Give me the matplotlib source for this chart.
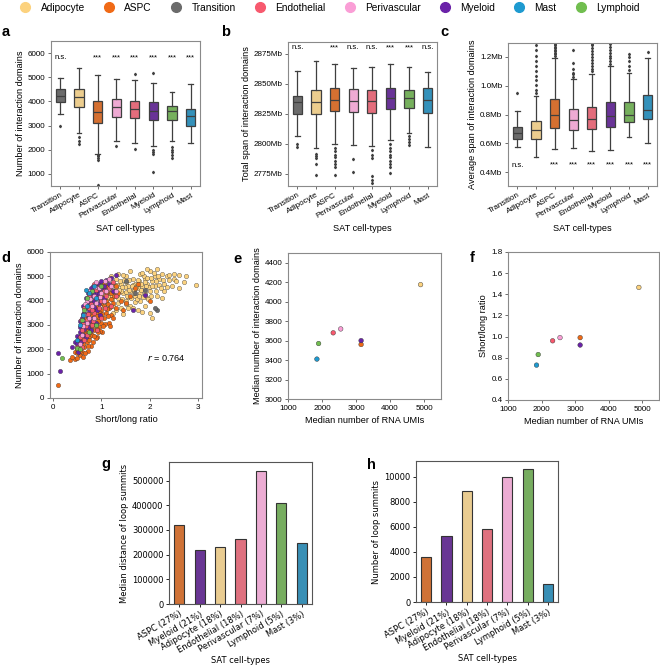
import colorsys
import matplotlib
matplotlib.use('Agg')
import matplotlib.pyplot as plt
import matplotlib.colors as mcolors
from matplotlib.lines import Line2D
from matplotlib.ticker import FuncFormatter

# legend / palette
legend_names = ['Adipocyte', 'ASPC', 'Transition', 'Endothelial', 'Perivascular', 'Myeloid', 'Mast', 'Lymphoid']
legend_colors = ['#FCD27E', '#F06A16', '#6B6B6B', '#F7596E', '#FA9ED6', '#6A22A8', '#1E9AD0', '#71BE4F']
pal = dict(zip(legend_names, legend_colors))

# panels a-c
box_order = ['Transition', 'Adipocyte', 'ASPC', 'Perivascular', 'Endothelial', 'Myeloid', 'Lymphoid', 'Mast']

a_med = [4233, 4192, 3575, 3753, 3685, 3616, 3589, 3411]
a_q1 = [3959, 3753, 3123, 3342, 3301, 3233, 3233, 3000]
a_q3 = [4507, 4507, 4014, 4096, 4027, 3959, 3808, 3699]
a_lo = [3466, 2685, 1836, 2370, 2274, 2137, 2356, 2274]
a_hi = [4973, 5384, 5082, 4945, 4904, 4767, 4397, 4740]
a_fliers = [[2973], [2548, 2342, 2247], [1780, 1726, 1658, 1589, 562], [2164],
            [5151, 2041], [5178, 2000, 1890, 1822, 1082], [2110, 2000, 1890, 1795, 1658], []]
a_sig = ['n.s.', '', '***', '***', '***', '***', '***', '***']

b_med = [2835, 2835.4, 2837, 2836, 2835.5, 2838, 2838, 2837]
b_q1 = [2825, 2825, 2827.8, 2826.7, 2825.5, 2829, 2829.7, 2825.5]
b_q3 = [2840, 2844.6, 2846.7, 2846, 2845, 2846.7, 2845, 2847]
b_lo = [2807, 2797, 2800, 2799.4, 2798, 2803, 2809.4, 2797.5]
b_hi = [2861, 2869.5, 2866.7, 2863, 2864, 2866.7, 2864, 2859.7]
b_fliers = [[2799.6, 2797.5], [2792, 2790, 2788, 2783, 2774],
            [2797, 2794, 2791, 2789, 2786, 2783, 2781, 2774], [2787.5, 2777],
            [2795, 2791, 2788, 2773, 2770, 2767.5],
            [2800, 2797, 2794, 2791, 2789, 2786, 2783, 2781, 2776], [2807, 2804, 2801.7, 2799], []]
b_sig = ['n.s.', '', '***', 'n.s.', 'n.s.', '***', '***', 'n.s.']

c_med = [0.670, 0.693, 0.795, 0.762, 0.767, 0.790, 0.795, 0.831]
c_q1 = [0.628, 0.631, 0.709, 0.693, 0.700, 0.714, 0.746, 0.767]
c_q3 = [0.716, 0.753, 0.907, 0.840, 0.855, 0.887, 0.887, 0.937]
c_lo = [0.573, 0.506, 0.562, 0.568, 0.550, 0.555, 0.642, 0.605]
c_hi = [0.827, 0.930, 1.195, 1.050, 1.080, 1.140, 1.090, 1.195]
c_fliers = [[0.953],
            [0.95, 0.97, 1.005, 1.04, 1.07, 1.106, 1.14, 1.175, 1.21, 1.247, 1.28],
            [1.21, 1.22, 1.23, 1.24, 1.25, 1.26, 1.27, 1.28, 1.29],
            [1.06, 1.08, 1.09, 1.12, 1.16, 1.25],
            [1.10, 1.12, 1.14, 1.16, 1.18, 1.20, 1.22, 1.24, 1.26, 1.28, 1.29],
            [1.15, 1.17, 1.19, 1.21, 1.23, 1.25, 1.27, 1.29],
            [1.11, 1.14, 1.17, 1.20, 1.22],
            [1.235]]
c_sig = ['n.s.', '', '***', '***', '***', '***', '***', '***']

# panel d scatter (short/long ratio, number of interaction domains)
d_pts = {
    'Adipocyte': [(1.0, 4100), (1.05, 4400), (1.1, 3900), (1.15, 4600), (1.2, 4200), (1.25, 3800), (1.3, 4500),
                  (1.3, 4900), (1.35, 4100), (1.4, 3700), (1.4, 4700), (1.45, 4300), (1.5, 4000), (1.5, 5000),
                  (1.55, 4600), (1.6, 3800), (1.6, 4400), (1.65, 4900), (1.7, 4200), (1.7, 4700), (1.75, 3600),
                  (1.75, 4500), (1.8, 5100), (1.8, 4000), (1.85, 4600), (1.9, 4300), (1.9, 4900), (1.95, 4700),
                  (2.0, 4400), (2.0, 5200), (2.05, 4800), (2.1, 4600), (2.1, 5000), (2.15, 4200), (2.2, 4900),
                  (2.25, 5100), (2.3, 4700), (2.35, 5000), (2.4, 5050), (2.5, 4900), (2.55, 4800), (2.6, 5050),
                  (2.7, 4750), (2.75, 5000), (2.95, 4650), (2.05, 3300), (2.0, 3500), (1.85, 3550), (1.1, 4800),
                  (1.2, 5000), (0.95, 3700), (1.6, 5200), (2.15, 5300), (1.45, 3450), (1.25, 3500), (2.25, 4100),
                  (1.0, 4700), (1.35, 5100), (1.55, 4150), (1.7, 3950), (1.9, 3800), (1.95, 5300), (2.3, 4400),
                  (2.45, 4600), (2.6, 4500), (1.15, 4300), (1.8, 4300), (1.65, 4650), (1.4, 4400), (1.5, 4750),
                  (1.28, 4650), (1.38, 4800), (1.48, 4550), (1.58, 4850), (1.68, 4450), (1.78, 4800), (1.88, 5000),
                  (1.98, 4550), (2.08, 5150), (1.12, 4050), (1.22, 4450), (1.32, 4250), (1.42, 4050), (1.52, 4350),
                  (1.62, 4100), (1.72, 4550), (1.82, 4700), (1.92, 4150), (2.02, 4950), (2.12, 4400), (1.08, 4550),
                  (1.18, 3750), (1.35, 3900), (1.55, 3700), (1.75, 4850), (1.95, 4950), (2.2, 4650), (2.4, 4850),
                  (1.03, 3850), (1.13, 4150), (1.23, 4050), (1.33, 4650), (1.43, 4550), (1.53, 4200), (1.63, 4600),
                  (1.73, 4050), (1.83, 4450), (1.93, 4600), (2.03, 4200), (2.13, 4800), (2.23, 4500), (1.27, 4350),
                  (1.37, 4450), (1.47, 4850), (1.57, 4450), (1.67, 4300), (1.77, 4200), (1.87, 4150), (1.97, 4050),
                  (1.17, 4950), (1.07, 4250), (1.45, 5050), (1.85, 5150), (2.05, 4600), (1.65, 3700), (1.5, 3850),
                  (1.3, 3600), (1.9, 4750), (2.18, 5000), (2.28, 4850), (2.5, 5100), (2.35, 4550)],
    'ASPC': [(0.1, 550), (0.35, 1550), (0.45, 1600), (0.5, 1650), (0.55, 1750), (0.45, 1900), (0.5, 2000),
             (0.55, 2100), (0.6, 1900), (0.6, 2300), (0.65, 2100), (0.65, 2500), (0.7, 2300), (0.7, 2700),
             (0.75, 2500), (0.75, 2900), (0.8, 2600), (0.8, 3100), (0.85, 2800), (0.85, 3300), (0.9, 3000),
             (0.9, 3500), (0.95, 2900), (0.95, 3300), (1.0, 3100), (1.0, 3600), (1.05, 3300), (1.05, 3800),
             (1.1, 3500), (1.1, 4000), (1.15, 3700), (1.2, 3400), (1.2, 4300), (1.25, 3900), (1.3, 4600),
             (1.35, 4300), (1.4, 4000), (1.6, 4200), (1.75, 4700), (0.55, 2400), (0.6, 2700), (0.7, 3000),
             (0.8, 3400), (0.9, 3800), (1.0, 4200), (1.1, 4600), (0.75, 3500), (0.85, 4000), (0.95, 4400),
             (1.05, 4700), (0.65, 2900), (0.72, 1950), (0.82, 2300), (0.92, 2500), (1.02, 2700), (0.5, 1850),
             (0.62, 1700), (0.78, 2150), (0.88, 2450), (0.98, 2750), (1.15, 3100), (1.25, 3300), (1.45, 3600),
             (1.3, 3700), (1.5, 3900), (1.7, 4500), (2.0, 4000), (0.68, 3300), (0.58, 2600), (1.12, 4350),
             (1.22, 4700), (0.87, 3650), (1.18, 2950), (0.4, 1700), (0.52, 2250), (0.67, 1850), (0.77, 2700),
             (0.97, 3500), (1.07, 3050), (1.27, 4200), (0.63, 2200), (0.83, 3650), (0.93, 3150), (1.13, 3850),
             (0.57, 1950), (0.66, 2650), (0.74, 2400), (0.84, 2550), (0.94, 2700), (1.04, 2950), (1.14, 3350),
             (0.73, 2150), (0.79, 3200), (0.89, 3350), (0.99, 3900), (1.09, 4300), (1.19, 4050), (1.29, 4400),
             (0.61, 2450), (0.71, 2850), (0.81, 2950), (0.91, 2850), (1.01, 3450), (1.11, 3650)],
    'Myeloid': [(0.1, 1850), (0.15, 1100), (0.4, 2100), (0.45, 2300), (0.5, 2550), (0.5, 2200), (0.55, 2700),
                (0.55, 2900), (0.6, 3000), (0.6, 3300), (0.62, 2600), (0.65, 3500), (0.65, 3100), (0.7, 3800),
                (0.7, 3400), (0.72, 2900), (0.75, 4000), (0.75, 3600), (0.8, 4200), (0.8, 3900), (0.82, 3300),
                (0.85, 4400), (0.85, 4000), (0.9, 4600), (0.9, 4200), (0.92, 3600), (0.95, 4700), (0.95, 4300),
                (1.0, 4800), (1.0, 4500), (1.05, 4600), (1.1, 4850), (1.15, 4700), (1.2, 4950), (0.58, 2300),
                (0.68, 2500), (0.78, 2800), (0.88, 3100), (0.98, 3400), (0.72, 4300), (0.82, 4600), (1.65, 3600),
                (1.3, 5050), (1.9, 4250), (0.52, 1900), (0.62, 3800), (0.95, 3900), (1.05, 4100), (0.78, 4500),
                (0.68, 4100), (1.25, 4400), (0.57, 3150), (0.67, 3700), (0.77, 3250), (0.87, 4300), (0.97, 4050),
                (0.63, 3450), (0.73, 3950), (0.83, 4350), (0.93, 4450), (0.64, 2850), (0.74, 3150), (0.84, 3750),
                (0.54, 2450), (1.08, 4450), (1.18, 4550)],
    'Endothelial': [(0.5, 2100), (0.55, 2500), (0.6, 2800), (0.65, 2400), (0.7, 3200), (0.75, 3700), (0.8, 3000),
                    (0.85, 3500), (0.9, 4100), (0.95, 3700), (1.0, 4000), (1.05, 4400), (1.1, 4200), (1.15, 4500),
                    (0.65, 3700), (0.75, 4200), (0.85, 4700), (0.92, 2800), (1.2, 3800), (1.3, 4200), (0.58, 3200),
                    (0.7, 2600), (1.25, 4750), (0.8, 3600), (0.6, 2100), (1.0, 3300), (0.88, 4450), (0.73, 3450),
                    (0.68, 2950), (0.78, 3850), (0.98, 4600), (1.08, 3700), (0.63, 3050), (0.83, 3150)],
    'Perivascular': [(0.55, 2200), (0.6, 2600), (0.7, 3100), (0.75, 3300), (0.8, 3800), (0.85, 4200), (0.9, 3900),
                     (0.95, 4500), (1.0, 4300), (1.05, 4000), (1.1, 4400), (1.15, 4900), (0.65, 3400), (0.75, 4400),
                     (0.85, 3300), (0.7, 4000), (1.2, 4600), (0.9, 4750), (1.3, 4400), (0.62, 2950),
                     (0.67, 3850), (0.77, 4050), (0.87, 4550), (0.97, 4150), (1.07, 4800)],
    'Lymphoid': [(0.18, 1650), (0.5, 2050), (0.55, 2000), (0.6, 3200), (0.65, 3600), (0.7, 4100), (0.8, 4400),
                 (0.9, 3000), (0.75, 2700), (1.0, 4600)],
    'Mast': [(0.55, 3000), (0.62, 3400), (0.7, 3800), (0.85, 4600), (0.75, 4300), (0.5, 2400), (0.68, 4450),
             (0.9, 4100)],
    'Transition': [(1.9, 4450), (2.15, 3600), (1.7, 4300), (2.1, 3700), (1.5, 4800)],
}
d_r = 0.764

# panels e, f
ef_types = ['Mast', 'Lymphoid', 'Endothelial', 'Perivascular', 'ASPC', 'Myeloid', 'Adipocyte']
ef_umis = [1850, 1900, 2330, 2550, 3150, 3150, 4900]
e_domains = [3410, 3570, 3680, 3720, 3560, 3600, 4175]
f_ratio = [0.73, 0.83, 0.96, 0.99, 0.99, 0.92, 1.465]

# panels g, h
gh_types = ['ASPC', 'Myeloid', 'Adipocyte', 'Endothelial', 'Perivascular', 'Lymphoid', 'Mast']
gh_labels = ['ASPC (27%)', 'Myeloid (21%)', 'Adipocyte (18%)', 'Endothelial (18%)',
             'Perivascular (7%)', 'Lymphoid (5%)', 'Mast (3%)']
g_dist = [320000, 218000, 230000, 262000, 540000, 410000, 248000]
h_count = [3600, 5250, 8850, 5800, 10000, 10600, 1400]


def desat(c, s=0.75):
    r, g, b = mcolors.to_rgb(c)
    h, l, sat = colorsys.rgb_to_hls(r, g, b)
    return colorsys.hls_to_rgb(h, l, sat * s)


W, H = 660, 667
fig = plt.figure(figsize=(6.6, 6.67), dpi=100)
ARIAL = 'Liberation Sans'
TICK = 5.8
LAB = 6.6


def px_axes(l, t, r, b):
    return fig.add_axes([l / W, 1 - b / H, (r - l) / W, (b - t) / H])


def style(ax, spine='#8a8a8a'):
    for s in ax.spines.values():
        s.set_color(spine)
        s.set_linewidth(0.8)
    ax.tick_params(length=2.5, width=0.6, color='#555555', labelsize=TICK, pad=1.5)
    for t in ax.get_xticklabels() + ax.get_yticklabels():
        t.set_fontfamily(ARIAL)


def letter(x, y, s):
    fig.text(x / W, 1 - y / H, s, fontsize=10.5, fontweight='bold', family=ARIAL, va='baseline')


def boxpanel(rect, med, q1, q3, lo, hi, fl, sig, sig_y, ylim, ylabel, fmt=None):
    ax = px_axes(*rect)
    stats = []
    for i in range(len(box_order)):
        stats.append(dict(med=med[i], q1=q1[i], q3=q3[i], whislo=lo[i], whishi=hi[i], fliers=fl[i]))
    bp = ax.bxp(stats, positions=range(len(box_order)), widths=0.5, capwidths=0.25, patch_artist=True,
                boxprops=dict(edgecolor='#3f3f3f', linewidth=0.9),
                medianprops=dict(color='#3f3f3f', linewidth=0.9),
                whiskerprops=dict(color='#3f3f3f', linewidth=0.9),
                capprops=dict(color='#3f3f3f', linewidth=0.9),
                flierprops=dict(marker='d', markersize=1.3, markerfacecolor='#3f3f3f',
                                markeredgecolor='#3f3f3f', linestyle='none'))
    for patch, name in zip(bp['boxes'], box_order):
        patch.set_facecolor(desat(pal[name]))
    for i, s in enumerate(sig):
        if s:
            ax.text(i, sig_y, s, ha='center', va='center', fontsize=5.6, family=ARIAL)
    ax.set_xlim(-0.5, len(box_order) - 0.5)
    ax.set_ylim(*ylim)
    ax.set_xticks(range(len(box_order)))
    ax.set_xticklabels(box_order, rotation=30, ha='right', rotation_mode='anchor')
    if fmt:
        ax.yaxis.set_major_formatter(FuncFormatter(fmt))
    ax.set_xlabel('SAT cell-types', fontsize=LAB, family=ARIAL, labelpad=3)
    ax.set_ylabel(ylabel, fontsize=LAB, family=ARIAL, labelpad=2)
    style(ax)
    return ax


# legend
handles = [Line2D([], [], marker='o', linestyle='none', markersize=7, markerfacecolor=c,
                  markeredgecolor=c) for c in legend_colors]
fig.legend(handles, legend_names, loc='center', bbox_to_anchor=(0.5, 1 - 8 / H), ncol=8, frameon=False,
           prop={'family': ARIAL, 'size': 7.3}, handlelength=1.0, handletextpad=1.0, columnspacing=1.9,
           borderaxespad=0)

ax_a = boxpanel((51, 41, 200, 186), a_med, a_q1, a_q3, a_lo, a_hi, a_fliers, a_sig, 5800, (500, 6500),
                'Number of interaction domains')
ax_a.set_yticks([1000, 2000, 3000, 4000, 5000, 6000])
ax_b = boxpanel((288, 42, 437, 186), b_med, b_q1, b_q3, b_lo, b_hi, b_fliers, b_sig, 2880.5, (2765, 2885),
                'Total span of interaction domains', lambda v, p: '%dMb' % v)
ax_b.set_yticks([2775, 2800, 2825, 2850, 2875])
ax_c = boxpanel((508, 43, 657, 186), c_med, c_q1, c_q3, c_lo, c_hi, c_fliers, c_sig, 0.45, (0.305, 1.297),
                'Average span of interaction domains', lambda v, p: '%.1fMb' % v)
ax_c.set_yticks([0.4, 0.6, 0.8, 1.0, 1.2])
for ax in (ax_a, ax_b, ax_c):
    style(ax)

# d
ax_d = px_axes(50, 252, 202, 398)
for name in ['Adipocyte', 'ASPC', 'Myeloid', 'Endothelial', 'Perivascular', 'Lymphoid', 'Mast', 'Transition']:
    xs = [p[0] for p in d_pts[name]]
    ys = [p[1] for p in d_pts[name]]
    ax_d.scatter(xs, ys, s=10, color=pal[name], edgecolor='#333333', linewidth=0.25, zorder=2)
ax_d.text(1.95, 1650, r'$r$ = %.3f' % d_r, fontsize=6.6, family=ARIAL, va='center')
ax_d.set_xlim(-0.06, 3.08)
ax_d.set_ylim(0, 6000)
ax_d.set_xticks([0, 1, 2, 3])
ax_d.set_yticks([0, 1000, 2000, 3000, 4000, 5000, 6000])
ax_d.set_xlabel('Short/long ratio', fontsize=LAB, family=ARIAL, labelpad=3)
ax_d.set_ylabel('Number of interaction domains', fontsize=LAB, family=ARIAL, labelpad=2)
style(ax_d)

# e, f
ax_e = px_axes(288, 253, 441, 399)
ax_f = px_axes(508, 252, 659, 400)
for ax, vals in ((ax_e, e_domains), (ax_f, f_ratio)):
    ax.scatter(ef_umis, vals, s=11, c=[pal[t] for t in ef_types], edgecolor='#333333', linewidth=0.3, zorder=2)
    ax.set_xlim(1000, 5500)
    ax.set_xticks([1000, 2000, 3000, 4000, 5000])
    ax.set_xlabel('Median number of RNA UMIs', fontsize=LAB, family=ARIAL, labelpad=3)
    style(ax)
ax_e.set_ylim(3000, 4500)
ax_e.set_yticks([3000, 3200, 3400, 3600, 3800, 4000, 4200, 4400])
ax_e.set_ylabel('Median number of interaction domains', fontsize=LAB, family=ARIAL, labelpad=2)
ax_f.set_ylim(0.4, 1.8)
ax_f.set_yticks([0.4, 0.6, 0.8, 1.0, 1.2, 1.4, 1.6, 1.8])
ax_f.yaxis.set_major_formatter(FuncFormatter(lambda v, p: '%.1f' % v))
ax_f.set_ylabel('Short/long ratio', fontsize=LAB, family=ARIAL, labelpad=2)
style(ax_e)
style(ax_f)

# g, h
ax_g = px_axes(169, 462, 312, 604)
ax_h = px_axes(416, 461, 558, 602)
for ax, vals, yl, ylab in ((ax_g, g_dist, (0, 575000), 'Median distance of loop summits'),
                           (ax_h, h_count, (0, 11250), 'Number of loop summits')):
    ax.bar(range(len(gh_types)), vals, width=0.5, color=[desat(pal[t], 0.7) for t in gh_types],
           edgecolor='#333333', linewidth=0.8, zorder=2)
    ax.set_xlim(-0.5, len(gh_types) - 0.5)
    ax.set_ylim(*yl)
    ax.set_xticks(range(len(gh_types)))
    ax.set_xticklabels(gh_labels, rotation=30, ha='right', rotation_mode='anchor')
    ax.tick_params(labelsize=6, length=2.5, width=0.6, pad=1.5)
    for s in ax.spines.values():
        s.set_color('#555555')
        s.set_linewidth(0.8)
    ax.set_xlabel('SAT cell-types', fontsize=6, labelpad=1)
    ax.set_ylabel(ylab, fontsize=6, labelpad=2)
ax_h.set_yticks([0, 2000, 4000, 6000, 8000, 10000])

letter(2, 36, 'a')
letter(221, 36, 'b')
letter(440, 36, 'c')
letter(1, 262, 'd')
letter(233, 263, 'e')
letter(470, 262, 'f')
letter(101, 468, 'g')
letter(367, 469, 'h')

fig.savefig('out.png', dpi=100)
